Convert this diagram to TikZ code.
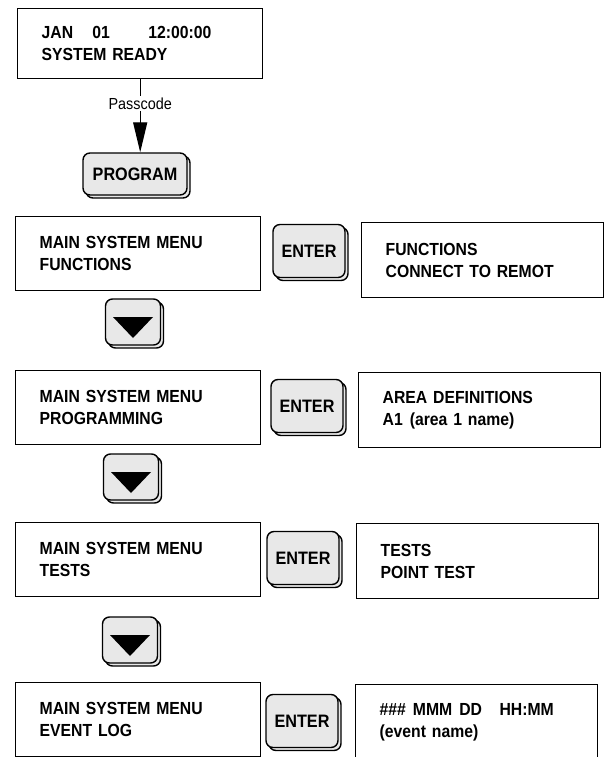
\documentclass[tikz,border=0pt]{standalone}
\usepackage{fontspec}
\setmainfont{Liberation Sans}
\newfontfamily\lcdfont[FakeStretch=0.9]{Liberation Sans}
\usetikzlibrary{arrows.meta,shadows,positioning}

\tikzset{
    lcd/.style={draw, line width=1.4pt, anchor=north west, align=left,
        text width=197pt, inner xsep=24pt, minimum height=74pt,
        font=\lcdfont\bfseries\fontsize{17.5}{22}\selectfont},
    keycap/.style={draw, line width=1.4pt, rounded corners=7pt, fill=black!9,
        inner sep=0pt, copy shadow={shadow xshift=3pt, shadow yshift=-3pt},
        font=\lcdfont\bfseries\fontsize{18}{20}\selectfont},
    enterkey/.style={keycap, minimum width=72pt, minimum height=53pt},
    downkey/.style={keycap, minimum width=55pt, minimum height=46pt},
}

\begin{document}
\begin{tikzpicture}[x=1pt, y=-1pt]
    \useasboundingbox (0,0) rectangle (603,757);

    % -------------------------------
    % 待机画面
    % -------------------------------
    \node[lcd, text width=197pt, minimum height=70pt] (ready) at (17,8)
        {JAN\hspace{1.1em}01\hspace{2.2em}12:00:00\\SYSTEM READY};

    \node[keycap, minimum width=104pt, minimum height=42pt] (prog) at (135,174) {PROGRAM};

    \draw[line width=1.4pt, -{Triangle[length=30pt, width=14pt]}]
        (ready.south) -- node[pos=0.33, fill=white, inner sep=2pt,
            font=\lcdfont\fontsize{16}{16}\selectfont] (pass) {Passcode}
        (ready.south |- prog.north);

    % -------------------------------
    % 主菜单各行
    % -------------------------------
    \foreach \n/\ly/\rx/\ry/\ex/\ey/\lb/\ra/\rb in {
        1/216/361/222/309/251/FUNCTIONS/FUNCTIONS/CONNECT TO REMOT,
        2/370/358/372/307/406/PROGRAMMING/AREA DEFINITIONS/A1\hspace{0.4em}(area 1 name),
        3/522/356/523/303/558/TESTS/TESTS/POINT TEST,
        4/682/355/684/302/721/EVENT LOG/\#\#\#\hspace{0.4em}MMM\hspace{0.4em}DD\hspace{1em}HH:MM/(event name)} {
        \node[lcd] (menu\n) at (15,\ly) {MAIN SYSTEM MENU\\\lb};
        \node[enterkey] (enter\n) at (\ex,\ey) {ENTER};
        \node[lcd, minimum height=75pt, text width=194pt] (sub\n) at (\rx,\ry) {\ra\\\rb};
    }

    % 向下键
    \foreach \n/\x/\y in {1/133/322, 2/131/477, 3/130/640} {
        \node[downkey] (down\n) at (\x,\y) {};
        \fill (down\n.center) ++(-20,-5) -- ++(40,0) -- ++(-20,21) -- cycle;
    }

\end{tikzpicture}
\end{document}
